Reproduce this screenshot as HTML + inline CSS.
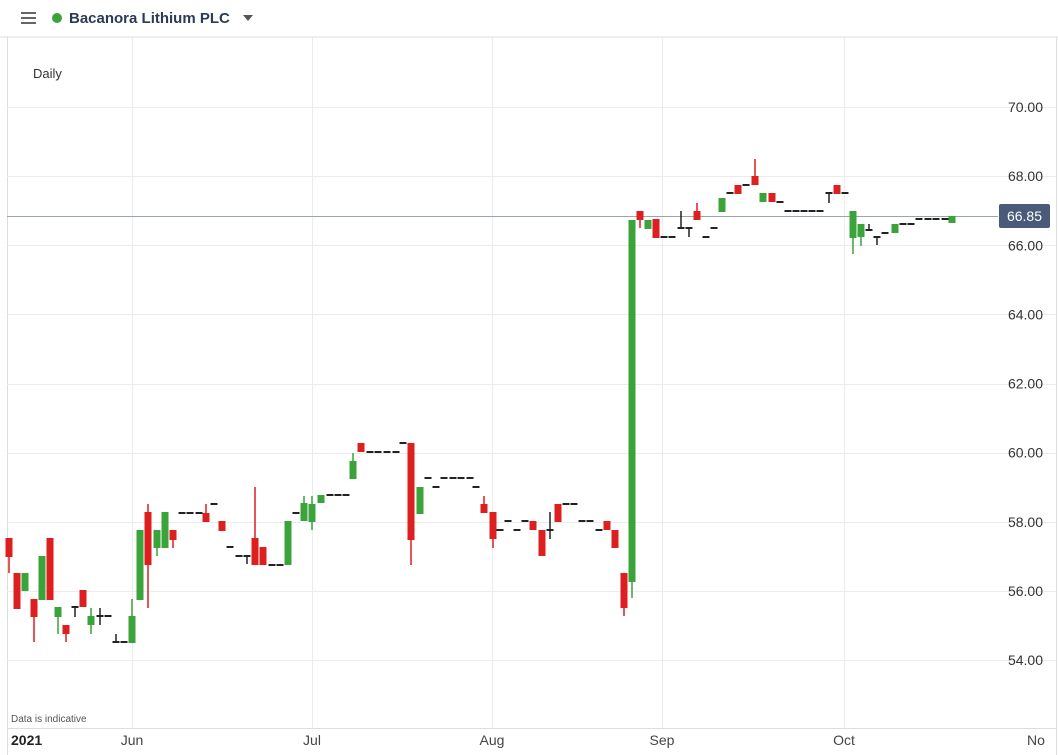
<!DOCTYPE html>
<html><head><meta charset="utf-8"><style>
html,body{margin:0;padding:0;background:#fff;font-family:"Liberation Sans",sans-serif;}
svg{display:block}
</style></head><body>
<svg id="s" width="1058" height="755" xmlns="http://www.w3.org/2000/svg" font-family="Liberation Sans, sans-serif">
<rect width="1058" height="755" fill="#fff"/>
<!-- header -->
<g fill="#666"><rect x="21" y="12" width="15" height="2"/><rect x="21" y="17" width="15" height="2"/><rect x="21" y="22" width="15" height="2"/></g>
<circle cx="57" cy="18" r="5" fill="#3aa33a"/>
<text x="69" y="23" font-size="15" font-weight="bold" fill="#2b3a55">Bacanora Lithium PLC</text>
<path d="M243 15 L253 15 L248 21 Z" fill="#555"/>
<line x1="0" y1="37" x2="1058" y2="37" stroke="#ddd"/>
<line x1="7.5" y1="37" x2="7.5" y2="755" stroke="#ddd"/>
<line x1="1056.5" y1="37" x2="1056.5" y2="755" stroke="#ddd"/>
<text x="33" y="78" font-size="13" fill="#333">Daily</text>
<g id="grid" stroke="#ececec" stroke-width="1"></g>
<line x1="7" y1="216.5" x2="998" y2="216.5" stroke="#9aa4ad"/>
<g id="c"></g>
<g id="ylab" font-size="14" fill="#333"></g>
<rect x="999" y="204" width="51" height="24" rx="2" fill="#4a5a78"/>
<text x="1024.5" y="221" font-size="14" fill="#fff" text-anchor="middle">66.85</text>
<text x="11" y="722" font-size="10" fill="#555">Data is indicative</text>
<line x1="7" y1="728.5" x2="1056" y2="728.5" stroke="#ddd"/>
<g font-size="14" fill="#444">
<text x="11" y="745" font-weight="bold" fill="#222">2021</text>
<text x="132" y="745" text-anchor="middle">Jun</text>
<text x="312" y="745" text-anchor="middle">Jul</text>
<text x="492" y="745" text-anchor="middle">Aug</text>
<text x="662" y="745" text-anchor="middle">Sep</text>
<text x="844" y="745" text-anchor="middle">Oct</text>
<text x="1036" y="745" text-anchor="middle">No</text>
</g>
</svg>
<script>
var NS="http://www.w3.org/2000/svg";
function el(p,t,a){var e=document.createElementNS(NS,t);for(var k in a)e.setAttribute(k,a[k]);p.appendChild(e);return e;}
var g=document.getElementById("grid"),yl=document.getElementById("ylab");
for(var v=54;v<=70;v+=2){var y=107+(70-v)*34.5625;el(g,"line",{x1:7,x2:1056,y1:Math.round(y)+.5,y2:Math.round(y)+.5});
var t=el(yl,"text",{x:1043,y:y+5,"text-anchor":"end"});t.textContent=v.toFixed(2);}
[132,312,492,662,844].forEach(function(x){el(g,"line",{x1:x+.5,x2:x+.5,y1:37,y2:728});});
// [x, bodyTop, bodyBot, wickTop, wickBot, color]  r=red g=green d=doji
var C=[
[9,538,557,538,573,'r'],[17,573,609,573,609,'r'],[25,573,591,573,591,'g'],[34,599,617,599,642,'r'],
[42,556,600,556,600,'g'],[50,538,600,538,600,'r'],[58,607,617,607,634,'g'],[66,625,634,625,642,'r'],
[75,607,607,607,617,'d'],[83,590,607,590,607,'r'],[91,616,625,608,634,'g'],[100,616,616,608,625,'d'],
[108,616,616,616,616,'d'],[116,642,642,634,642,'d'],[124,642,642,642,642,'d'],[132,616,643,599,643,'g'],
[140,530,600,530,600,'g'],[148,512,565,504,608,'r'],[157,530,548,530,556,'g'],[165,512,548,512,548,'g'],
[173,530,540,530,548,'r'],[182,513,513,513,513,'d'],[190,513,513,513,513,'d'],[199,513,513,513,513,'d'],
[206,513,522,504,522,'r'],[214,504,504,504,504,'d'],[222,521,531,521,531,'r'],[230,547,547,547,547,'d'],
[239,556,556,556,556,'d'],[247,556,556,556,564,'d'],[255,538,565,487,565,'r'],[263,547,565,547,565,'r'],
[272,565,565,565,565,'d'],[280,565,565,565,565,'d'],[288,521,565,521,565,'g'],[296,513,513,513,513,'d'],
[304,503,521,496,521,'g'],[312,504,522,496,530,'g'],[321,495,503,495,503,'g'],[330,495,495,495,495,'d'],
[338,495,495,495,495,'d'],[346,495,495,495,495,'d'],[353,461,479,453,479,'g'],[361,443,452,443,452,'r'],
[370,452,452,452,452,'d'],[378,452,452,452,452,'d'],[387,452,452,452,452,'d'],[396,452,452,452,452,'d'],
[403,443,443,443,443,'d'],[411,443,540,443,565,'r'],[420,487,514,487,514,'g'],[428,478,478,478,478,'d'],
[436,487,487,487,487,'d'],[444,478,478,478,478,'d'],[453,478,478,478,478,'d'],[461,478,478,478,478,'d'],
[470,478,478,478,478,'d'],[476,487,487,487,487,'d'],[484,504,513,496,513,'r'],[493,512,539,512,548,'r'],
[500,530,530,530,530,'d'],[508,521,521,521,521,'d'],[517,530,530,530,530,'d'],[525,521,521,521,521,'d'],
[533,521,530,521,530,'r'],[542,530,556,530,556,'r'],[550,530,530,512,539,'d'],[558,504,522,504,522,'r'],
[566,504,504,504,504,'d'],[574,504,504,504,504,'d'],[582,521,521,521,521,'d'],[590,521,521,521,521,'d'],
[599,530,530,530,530,'d'],[607,521,530,521,530,'r'],[615,530,548,530,548,'r'],[624,573,608,573,616,'r'],
[632,220,582,220,598,'g'],[640,211,220,211,228,'r'],[648,220,229,220,229,'g'],[656,219,238,219,238,'r'],
[664,237,237,237,237,'d'],[672,237,237,237,237,'d'],[681,228,228,211,228,'d'],[689,228,228,228,237,'d'],
[697,211,220,203,220,'r'],[706,237,237,237,237,'d'],[714,228,228,228,228,'d'],[722,198,212,198,212,'g'],
[730,193,193,193,193,'d'],[738,185,194,185,194,'r'],[746,185,185,185,185,'d'],[755,176,185,159,185,'r'],
[763,193,202,193,202,'g'],[772,193,202,193,202,'r'],[780,202,202,202,202,'d'],[788,211,211,211,211,'d'],
[796,211,211,211,211,'d'],[804,211,211,211,211,'d'],[812,211,211,211,211,'d'],[820,211,211,211,211,'d'],
[829,193,193,193,203,'d'],[837,185,194,185,194,'r'],[845,193,193,193,193,'d'],[853,211,238,211,254,'g'],
[861,224,237,224,246,'g'],[869,230,230,224,230,'d'],[877,237,237,237,245,'d'],[885,233,233,233,233,'d'],
[895,224,233,224,233,'g'],[903,224,224,224,224,'d'],[911,224,224,224,224,'d'],[919,219,219,219,219,'d'],
[928,219,219,219,219,'d'],[936,219,219,219,219,'d'],[945,219,219,219,219,'d'],[952,216,223,216,223,'g']
];
var cg=document.getElementById("c");
C.forEach(function(c){
 var col=c[5]=='r'?'#dd1f1f':c[5]=='g'?'#3aa33a':'#222';
 if(c[3]<c[4]) el(cg,"rect",{x:c[0]-0.75,y:c[3],width:1.5,height:c[4]-c[3],fill:col});
 var h=Math.max(2,c[2]-c[1]);
 el(cg,"rect",{x:c[0]-3.5,y:c[5]=='d'?c[1]-1:c[1],width:7,height:h,fill:col});
});
</script>
</body></html>
